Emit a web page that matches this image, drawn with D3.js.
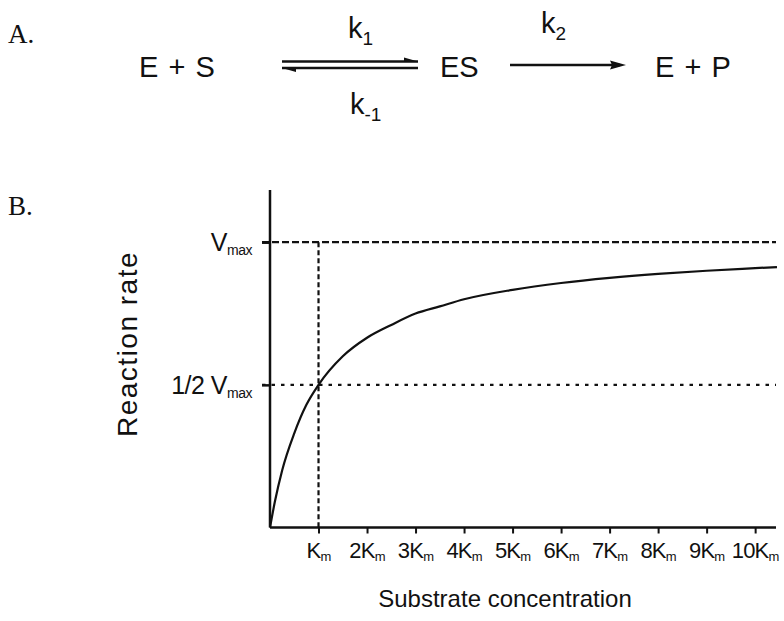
<!DOCTYPE html>
<html>
<head>
<meta charset="utf-8">
<script src="https://cdn.jsdelivr.net/npm/d3@7"></script>
<style>
  html, body { margin: 0; padding: 0; background: #fff; }
  svg { display: block; }
  text { font-family: "Liberation Sans", Arial, sans-serif; fill: #111; }
  .serif { font-family: "Liberation Serif", "Times New Roman", serif; }
</style>
</head>
<body>
<svg id="chart" width="784" height="621"></svg>
<script>
// ---- data ----
const tickMultiples = [1, 2, 3, 4, 5, 6, 7, 8, 9, 10];
const tickPrefixes = ["", "2", "3", "4", "5", "6", "7", "8", "9", "10"];
const substrate = [0, 0.1, 0.25, 0.5, 0.75, 1, 1.5, 2, 2.5, 3, 3.5, 4, 5, 6, 7, 8, 9, 10, 10.45];
const rate = [0, 0.09, 0.2, 0.33, 0.43, 0.5, 0.6, 0.665, 0.71, 0.75, 0.775, 0.8, 0.833, 0.857, 0.875, 0.889, 0.9, 0.909, 0.913];
const yLevels = [1, 0.5];
const yLevelLabels = [["V", "max"], ["1/2 V", "max"]];
const kmValue = 1;

const svg = d3.select("#chart");
const ink = "#111";

// ---- Panel A: reaction scheme ----
const A = svg.append("g");
A.append("text").attr("class", "serif").attr("x", 8).attr("y", 43).attr("font-size", 27).text("A.");
A.append("text").attr("x", 139).attr("y", 77).attr("font-size", 29).attr("word-spacing", 2).text("E + S");
A.append("text").attr("x", 440).attr("y", 77).attr("font-size", 29).text("ES");
A.append("text").attr("x", 655).attr("y", 77).attr("font-size", 29).attr("word-spacing", 2).text("E + P");
const k1 = A.append("text").attr("x", 348).attr("y", 38).attr("font-size", 29);
k1.append("tspan").text("k");
k1.append("tspan").attr("font-size", 19).attr("dy", 7).text("1");
const km1 = A.append("text").attr("x", 350).attr("y", 114).attr("font-size", 29);
km1.append("tspan").text("k");
km1.append("tspan").attr("font-size", 19).attr("dy", 7).text("-1");
const k2 = A.append("text").attr("x", 541).attr("y", 33).attr("font-size", 29);
k2.append("tspan").text("k");
k2.append("tspan").attr("font-size", 19).attr("dy", 7).text("2");
// equilibrium arrows
A.append("line").attr("x1", 282).attr("x2", 418).attr("y1", 61.5).attr("y2", 61.5).attr("stroke", ink).attr("stroke-width", 2.5);
A.append("path").attr("d", "M404,57.5 L418,61.5 L404,61.5 Z").attr("fill", ink);
A.append("line").attr("x1", 282).attr("x2", 418).attr("y1", 68).attr("y2", 68).attr("stroke", ink).attr("stroke-width", 2.5);
A.append("path").attr("d", "M282,68 L296,72 L296,68 Z").attr("fill", ink);
// forward arrow
A.append("line").attr("x1", 510).attr("x2", 620).attr("y1", 65).attr("y2", 65).attr("stroke", ink).attr("stroke-width", 2.5);
A.append("path").attr("d", "M626,65 L610,60.5 L612,65 L610,69.5 Z").attr("fill", ink);

// ---- Panel B ----
svg.append("text").attr("class", "serif").attr("x", 8).attr("y", 215).attr("font-size", 27).text("B.");

const x0 = 270, x1 = 776, y0 = 527.5, yTop = 190;
const x = d3.scaleLinear().domain([0, 10.43]).range([x0, x1]);
const y = d3.scaleLinear().domain([0, 1.183]).range([y0, yTop]);

// reference lines
svg.append("line").attr("x1", 262).attr("x2", x1).attr("y1", y(1)).attr("y2", y(1))
  .attr("stroke", ink).attr("stroke-width", 2.2).attr("stroke-dasharray", "7,3");
svg.append("line").attr("x1", 262).attr("x2", x1).attr("y1", y(0.5)).attr("y2", y(0.5))
  .attr("stroke", ink).attr("stroke-width", 2.2).attr("stroke-dasharray", "3.5,6");
svg.append("line").attr("x1", x(kmValue)).attr("x2", x(kmValue)).attr("y1", y(1)).attr("y2", y0)
  .attr("stroke", ink).attr("stroke-width", 2.2).attr("stroke-dasharray", "5,3");

// curve
const pts = substrate.map((s, i) => [s, rate[i]]);
svg.append("path").datum(pts)
  .attr("fill", "none").attr("stroke", ink).attr("stroke-width", 2.2)
  .attr("d", d3.line().x(d => x(d[0])).y(d => y(d[1])).curve(d3.curveMonotoneX));

// x axis
const xAxis = d3.axisBottom(x).tickValues(tickMultiples).tickSize(6).tickFormat("");
const gx = svg.append("g").attr("transform", `translate(0,${y0})`).call(xAxis);
gx.select(".domain").attr("stroke", ink).attr("stroke-width", 2.5).attr("d", `M${x0},0H${x1}`);
gx.selectAll(".tick line").attr("stroke", ink).attr("stroke-width", 2);
tickMultiples.forEach((m, i) => {
  const t = svg.append("text").attr("x", x(m)).attr("y", y0 + 30).attr("text-anchor", "middle")
    .attr("font-size", 22).attr("letter-spacing", -0.8);
  t.append("tspan").text(tickPrefixes[i] + "K");
  t.append("tspan").attr("font-size", 13).attr("dy", 3).text("m");
});

// y axis
const yAxis = d3.axisLeft(y).tickValues(yLevels).tickSize(8).tickFormat("");
const gy = svg.append("g").attr("transform", `translate(${x0},0)`).call(yAxis);
gy.select(".domain").attr("stroke", ink).attr("stroke-width", 2.5).attr("d", `M0,${yTop}V${y0}`);
gy.selectAll(".tick line").attr("stroke", ink).attr("stroke-width", 2.5);
yLevels.forEach((v, i) => {
  const t = svg.append("text").attr("x", 252).attr("y", y(v) + 9).attr("text-anchor", "end").attr("font-size", 25)
    .attr("letter-spacing", -0.5);
  t.append("tspan").text(yLevelLabels[i][0]);
  t.append("tspan").attr("font-size", 14).attr("dy", 4).text(yLevelLabels[i][1]);
});

// axis titles
svg.append("text").attr("transform", "translate(137,344) rotate(-90)").attr("text-anchor", "middle")
  .attr("font-size", 28).attr("letter-spacing", 1.5).text("Reaction rate");
svg.append("text").attr("x", 505).attr("y", 607).attr("text-anchor", "middle")
  .attr("font-size", 24).text("Substrate concentration");
</script>
</body>
</html>
